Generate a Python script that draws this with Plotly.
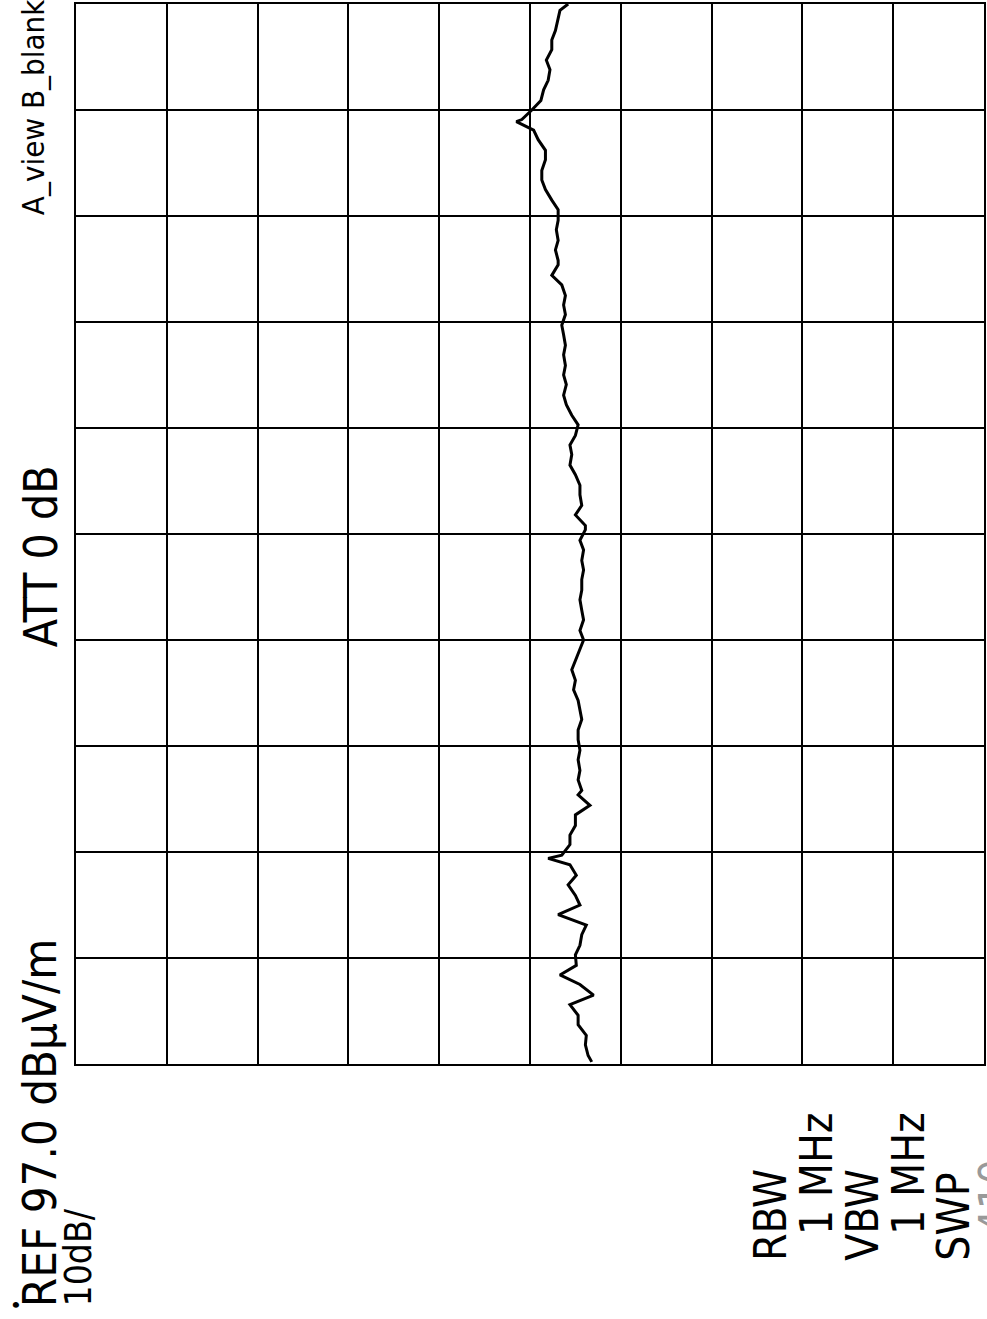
import plotly.graph_objects as go

# Frequency position (in divisions, 0 = start of sweep, 10 = end) and level (dBuV/m)
freq_div = [0.02, 0.08, 0.18, 0.27, 0.37, 0.46, 0.56, 0.65, 0.75, 0.84, 0.93, 1.03, 1.12, 1.22,
            1.31, 1.41, 1.50, 1.59, 1.69, 1.78, 1.88, 1.94, 1.97, 2.07, 2.16, 2.25, 2.35, 2.44,
            2.54, 2.58, 2.68, 2.77, 2.87, 2.96, 3.06, 3.15, 3.25, 3.34, 3.43, 3.53, 3.62, 3.72,
            3.81, 3.91, 4.00, 4.09, 4.19, 4.28, 4.38, 4.47, 4.57, 4.66, 4.75, 4.85, 4.94, 5.04,
            5.08, 5.18, 5.27, 5.37, 5.46, 5.56, 5.65, 5.75, 5.84, 5.93, 6.03, 6.12, 6.22, 6.31,
            6.41, 6.50, 6.59, 6.69, 6.78, 6.88, 6.97, 7.07, 7.16, 7.25, 7.35, 7.44, 7.54, 7.58,
            7.68, 7.77, 7.87, 7.96, 8.06, 8.15, 8.25, 8.34, 8.43, 8.53, 8.62, 8.72, 8.81, 8.89,
            8.91, 9.00, 9.09, 9.19, 9.28, 9.38, 9.47, 9.57, 9.66, 9.75, 9.85, 9.94, 10.0]
level_db = [40.2, 40.6, 40.9, 40.8, 41.7, 41.7, 42.6, 40.0, 41.5, 43.7, 41.9, 42.0, 41.5, 41.3,
            40.8, 43.9, 41.5, 42.0, 42.8, 41.9, 42.6, 45.0, 43.5, 42.6, 42.6, 42.0, 42.0, 40.4,
            41.7, 41.3, 41.7, 41.5, 41.7, 41.5, 41.7, 41.7, 41.3, 41.5, 41.7, 42.2, 42.0, 42.4,
            42.0, 41.5, 41.1, 41.5, 41.1, 41.3, 41.5, 41.3, 41.3, 41.1, 41.3, 41.1, 41.5, 40.9,
            40.9, 42.0, 41.3, 41.5, 41.5, 42.0, 42.6, 42.4, 42.6, 42.0, 41.7, 42.4, 43.0, 43.3,
            43.0, 43.3, 43.1, 43.3, 43.1, 43.3, 43.5, 43.1, 43.3, 43.1, 43.5, 44.6, 43.9, 43.9,
            44.2, 43.9, 44.1, 43.9, 43.9, 44.6, 45.3, 45.7, 45.7, 45.3, 45.3, 46.1, 46.6, 48.5,
            47.9, 46.8, 45.8, 45.5, 45.0, 44.8, 45.2, 44.6, 44.6, 44.2, 43.9, 43.7, 42.8]

ref_level = 97.0
db_per_div = 10.0

W, H = 987, 1319
L, R, T, B = 76, 1, 4, 255
PW, PH = W - L - R, H - T - B

def px(x):
    return (x - L) / PW

def py(y):
    return (H - B - y) / PH

fig = go.Figure()
fig.add_trace(go.Scatter(x=level_db, y=freq_div, mode="lines",
                         line=dict(color="black", width=3), hoverinfo="skip"))

axis_common = dict(showgrid=True, gridcolor="black", gridwidth=1.6, zeroline=False,
                   showticklabels=False, ticks="", showline=True, linecolor="black",
                   linewidth=2, mirror=True)
fig.update_xaxes(range=[ref_level, ref_level - 10 * db_per_div], dtick=db_per_div,
                 tick0=ref_level, **axis_common)
fig.update_yaxes(range=[0, 10], dtick=1, tick0=0, **axis_common)

FONT = "Liberation Sans Narrow, DejaVu Sans Condensed, Liberation Mono, monospace"

def txt(s, x, y, size, ya="bottom", color="black"):
    fig.add_annotation(text=s, x=px(x), y=py(y), xref="paper", yref="paper",
                       xanchor="left", yanchor=ya, textangle=-90, showarrow=False,
                       font=dict(family=FONT, size=size, color=color), borderpad=0)

txt("REF 97.0 dBμV/m", 11, 1308, 47)
txt("10dB/", 55, 1308, 37)
txt("ATT 0 dB", 13, 648, 46)
txt("A_view B_blank", 14, 216, 31)
txt("RBW", 745, 1262, 44)
txt("1 MHz", 791, 1236, 44)
txt("VBW", 837, 1262, 44)
txt("1 MHz", 883, 1236, 44)
txt("SWP", 928, 1262, 44)
txt("410", 970, 1236, 44, color="#999999")
txt("•", 2, 1312, 22)

fig.update_layout(width=W, height=H, margin=dict(l=L, r=R, t=T, b=B),
                  paper_bgcolor="white", plot_bgcolor="white", showlegend=False)

fig.write_html("out.html", config={"displayModeBar": False},
               post_script="document.body.style.margin='0';")
